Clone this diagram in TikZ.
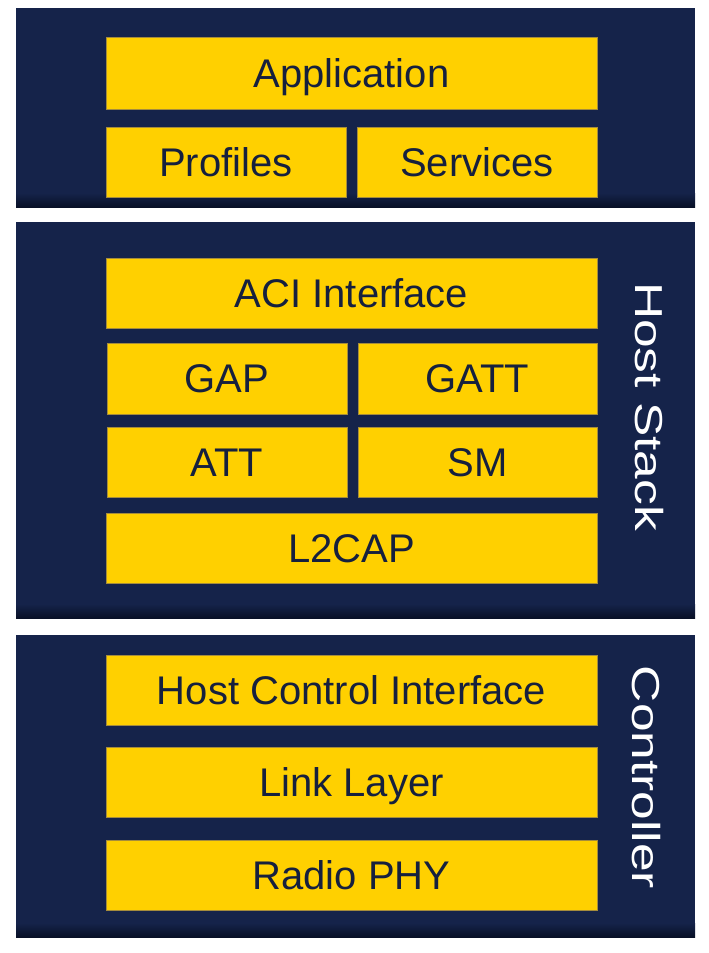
\documentclass[tikz,border=0pt]{standalone}
\usepackage{fontspec}
\setmainfont{Liberation Sans}
\usepackage{graphicx}
\definecolor{navy}{RGB}{21,35,74}
\definecolor{navydark}{RGB}{8,16,38}
\definecolor{yell}{RGB}{255,208,0}
\definecolor{ybord}{RGB}{165,140,60}
\definecolor{txt}{RGB}{22,32,62}
\tikzset{
  panel/.style={fill=navy, draw=none},
  ybox/.style={draw=ybord, line width=1pt, fill=yell, text=txt, inner sep=0pt,
    font=\fontsize{40}{44}\selectfont, text height=28.6pt, text depth=0pt, align=center},
  vlabel/.style={text=white, inner sep=0pt, rotate=-90,
    font=\fontsize{39}{44}\selectfont},
}
\begin{document}
\begin{tikzpicture}[x=1pt,y=-1pt]
\useasboundingbox[fill=white] (0,0) rectangle (709,953);
% panels
\foreach \a/\b [count=\i] in {8/207,222/618,635/937}{
  \fill[panel] (16,\a) rectangle (695,\b);
  \shade[top color=navy, bottom color=navydark] (16,\b-14) rectangle (695,\b);
}
% top panel
\node[ybox, minimum width=491, minimum height=72] (app) at (351.5,73) {Application};
\node[ybox, minimum width=240, minimum height=70] (prof) at (226,162) {Profiles};
\node[ybox, minimum width=240, minimum height=70] (serv) at (477,162) {Services};
% host stack
\node[ybox, minimum width=491, minimum height=70] (aci) at (351.5,293) {ACI Interface};
\node[ybox, minimum width=240, minimum height=71] (gap) at (227,378.5) {GAP};
\node[ybox, minimum width=239, minimum height=71] (gatt) at (477.5,378.5) {GATT};
\node[ybox, minimum width=240, minimum height=70] (att) at (227,462) {ATT};
\node[ybox, minimum width=239, minimum height=70] (sm) at (477.5,462) {SM};
\node[ybox, minimum width=491, minimum height=70] (l2cap) at (351.5,548) {L2CAP};
\node[vlabel] (host) at (649,406.5) {\scalebox{1.32}[1]{Host Stack}};
% controller
\node[ybox, minimum width=491, minimum height=70] (hci) at (351.5,690) {Host Control Interface};
\node[ybox, minimum width=491, minimum height=70] (ll) at (351.5,782) {Link Layer};
\node[ybox, minimum width=491, minimum height=70] (phy) at (351.5,875) {Radio PHY};
\node[vlabel] (ctrl) at (646,777.5) {\scalebox{1.32}[1]{Controller}};
\end{tikzpicture}
\end{document}
